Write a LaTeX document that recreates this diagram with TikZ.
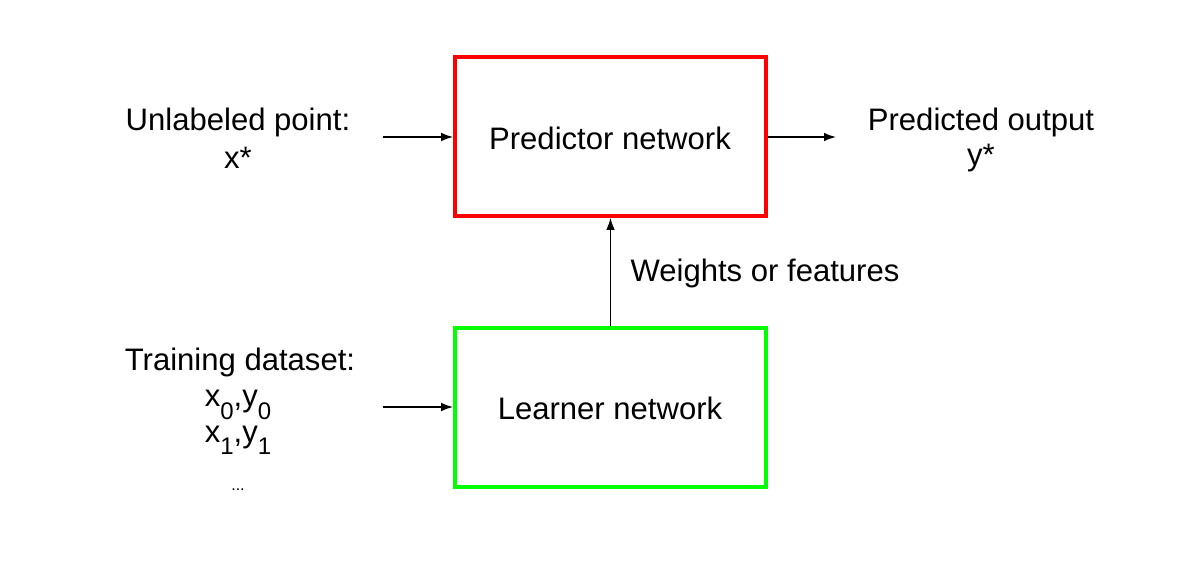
\documentclass[tikz,border=0pt]{standalone}
\usepackage{fontspec}
\setmainfont{Liberation Sans}
\usetikzlibrary{arrows.meta}
\newcommand{\lowsub}[1]{\raisebox{-0.4em}{\fontsize{18pt}{18pt}\selectfont #1}}
\tikzset{
  box/.style={draw, line width=3pt, minimum width=233pt, minimum height=119pt, inner sep=0pt},
  lbl/.style={font=\fontsize{23.3pt}{26pt}\selectfont, align=center, inner sep=0pt},
  conn/.style={line width=1.1pt, -{Latex[length=9pt,width=6.5pt]}}
}
\begin{document}
\begin{tikzpicture}[x=0.75pt,y=-0.75pt]
\useasboundingbox (0,0) rectangle (1195,561);
\node[box, draw={rgb,255:red,255;green,0;blue,0}] (pred) at (610.5,136.5) {};
\node[box, draw={rgb,255:red,0;green,255;blue,0}] (learn) at (610.5,407.5) {};
\node[lbl] (predt) at (610,138) {Predictor network};
\node[lbl] (learnt) at (610,408) {Learner network};
\node[lbl] (unl) at (238,122) {Unlabeled point:};
\node[lbl] (xs) at (238,158) {x*};
\node[lbl] (po) at (981,122) {Predicted output};
\node[lbl] (ys) at (981,158) {y*};
\node[lbl] (wf) at (765,273) {Weights or features};
\node[lbl] (td) at (240,362) {Training dataset:};
\node[lbl] (d0) at (238,405) {x\lowsub{0},y\lowsub{0}};
\node[lbl] (d1) at (238,440) {x\lowsub{1},y\lowsub{1}};
\node[lbl, font=\fontsize{12pt}{14pt}\selectfont] (dots) at (238,490) {...};
\coordinate (ina) at (383,137);
\coordinate (outa) at (836,137);
\coordinate (inb) at (383,407);
\draw[conn] (ina) -- (ina -| pred.west);
\draw[conn] (pred.east |- outa) -- (outa);
\draw[conn] (inb) -- (inb -| learn.west);
\draw[conn] (learn.north) -- (pred.south);
\end{tikzpicture}
\end{document}
